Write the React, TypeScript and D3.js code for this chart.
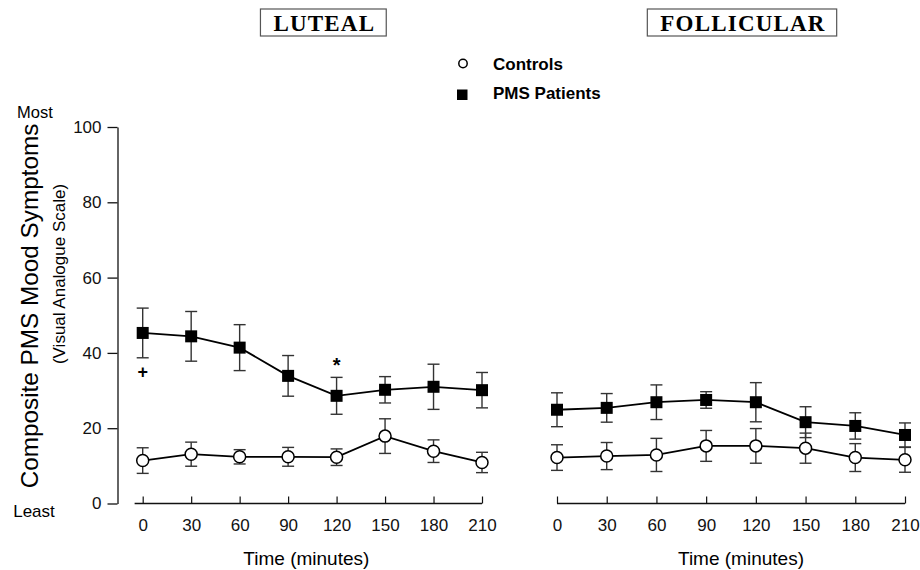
import React, { useEffect, useRef } from "react";
import * as d3 from "d3";

// time points (minutes)
const times = [0, 30, 60, 90, 120, 150, 180, 210];
const yTicks = [0, 20, 40, 60, 80, 100];

// luteal phase
const lutealPms = [45.3, 44.4, 41.4, 33.9, 28.6, 30.2, 31.0, 30.1];
const lutealPmsSem = [6.6, 6.6, 6.1, 5.4, 4.9, 3.5, 6.0, 4.7];
const lutealCtl = [11.4, 13.1, 12.4, 12.4, 12.3, 17.9, 13.9, 10.9];
const lutealCtlSem = [3.4, 3.2, 1.9, 2.5, 2.2, 4.6, 3.0, 2.7];

// follicular phase
const follPms = [24.9, 25.4, 26.9, 27.5, 26.9, 21.6, 20.6, 18.2];
const follPmsSem = [4.5, 3.8, 4.6, 2.2, 5.2, 4.1, 3.5, 3.2];
const follCtl = [12.2, 12.6, 12.9, 15.3, 15.3, 14.7, 12.2, 11.6];
const follCtlSem = [3.4, 3.6, 4.4, 4.1, 4.6, 4.0, 3.7, 3.3];

const panelTitles = ["LUTEAL", "FOLLICULAR"];
const seriesNames = ["Controls", "PMS Patients"];

export default function App() {
  const ref = useRef<SVGSVGElement>(null);

  useEffect(() => {
    const width = 920;
    const height = 570;
    const svg = d3.select(ref.current);
    svg.selectAll("*").remove();
    svg.attr("width", width).attr("height", height);

    const sans = "Arial, 'Liberation Sans', Helvetica, sans-serif";
    const serif = "'Times New Roman', 'Liberation Serif', serif";

    const y = d3.scaleLinear().domain([0, 100]).range([503.5, 127]);
    const xL = d3.scaleLinear().domain([0, 210]).range([142.7, 482]);
    const xR = d3.scaleLinear().domain([0, 210]).range([557, 905]);

    // y axis
    const yAxis = svg.append("g")
      .attr("transform", "translate(117.5,0)")
      .call(d3.axisLeft(y).tickValues(yTicks).tickSize(10).tickSizeOuter(0).tickPadding(6));
    yAxis.selectAll("path,line").attr("stroke", "#111").attr("stroke-width", 1.3);
    yAxis.selectAll("text").attr("font-family", sans).attr("font-size", 17).attr("fill", "#111");

    svg.append("text").attr("x", 35).attr("y", 118).attr("text-anchor", "middle")
      .attr("font-family", sans).attr("font-size", 16.5).text("Most");
    svg.append("text").attr("x", 34).attr("y", 517).attr("text-anchor", "middle")
      .attr("font-family", sans).attr("font-size", 17).text("Least");

    svg.append("text")
      .attr("transform", "translate(38,306) rotate(-90)")
      .attr("text-anchor", "middle").attr("font-family", sans).attr("font-size", 24.3)
      .text("Composite PMS Mood Symptoms");
    svg.append("text")
      .attr("transform", "translate(65,274) rotate(-90)")
      .attr("text-anchor", "middle").attr("font-family", sans).attr("font-size", 17)
      .text("(Visual Analogue Scale)");

    const panels = [
      { x: xL, title: panelTitles[0], pms: lutealPms, pmsSem: lutealPmsSem, ctl: lutealCtl, ctlSem: lutealCtlSem, axisStart: -5, labelShift: -6 },
      { x: xR, title: panelTitles[1], pms: follPms, pmsSem: follPmsSem, ctl: follCtl, ctlSem: follCtlSem, axisStart: 0, labelShift: 10 },
    ];

    panels.forEach((p) => {
      const x = p.x;
      const xa = svg.append("g")
        .attr("transform", `translate(0,${y(0)})`)
        .call(d3.axisBottom(x).tickValues(times).tickSize(-7).tickPadding(15).tickFormat(d3.format("d")));
      xa.select(".domain").remove();
      xa.selectAll("line").attr("stroke", "#111").attr("stroke-width", 1.2);
      xa.selectAll("text").attr("font-family", sans).attr("font-size", 17).attr("fill", "#111");
      xa.append("line")
        .attr("x1", x(p.axisStart)).attr("x2", x(210))
        .attr("stroke", "#111").attr("stroke-width", 1.3);

      const cx = (x(0) + x(210)) / 2;
      svg.append("text").attr("x", cx + p.labelShift).attr("y", 565).attr("text-anchor", "middle")
        .attr("font-family", sans).attr("font-size", 19).text("Time (minutes)");

      // panel title in box
      const tt = svg.append("text").attr("x", cx + 12).attr("y", 31).attr("text-anchor", "middle")
        .attr("font-family", serif).attr("font-weight", "bold").attr("font-size", 23)
        .attr("letter-spacing", 1.2).text(p.title);
      const bb = (tt.node() as SVGTextElement).getBBox();
      svg.append("rect")
        .attr("x", bb.x - 13).attr("y", 9).attr("width", bb.width + 24).attr("height", 27)
        .attr("fill", "none").attr("stroke", "#555").attr("stroke-width", 1.2);

      const series = [
        { v: p.ctl, s: p.ctlSem, kind: "circle" },
        { v: p.pms, s: p.pmsSem, kind: "square" },
      ];
      const g = svg.append("g");
      // error bars
      series.forEach((se) => {
        se.v.forEach((v, i) => {
          const px = x(times[i]);
          const hi = y(v + se.s[i]);
          const lo = y(v - se.s[i]);
          g.append("line").attr("x1", px).attr("x2", px).attr("y1", hi).attr("y2", lo)
            .attr("stroke", "#333").attr("stroke-width", 1.4);
          [hi, lo].forEach((yy) => {
            g.append("line").attr("x1", px - 6).attr("x2", px + 6).attr("y1", yy).attr("y2", yy)
              .attr("stroke", "#333").attr("stroke-width", 1.4);
          });
        });
      });
      // lines
      const line = d3.line<number>().x((_, i) => x(times[i])).y((d) => y(d));
      series.forEach((se) => {
        g.append("path").attr("d", line(se.v)!).attr("fill", "none")
          .attr("stroke", "#000").attr("stroke-width", 1.8);
      });
      // markers
      series.forEach((se) => {
        se.v.forEach((v, i) => {
          if (se.kind === "circle") {
            g.append("circle").attr("cx", x(times[i])).attr("cy", y(v)).attr("r", 6)
              .attr("fill", "#fff").attr("stroke", "#000").attr("stroke-width", 1.5);
          } else {
            g.append("rect").attr("x", x(times[i]) - 6).attr("y", y(v) - 6)
              .attr("width", 12).attr("height", 12).attr("fill", "#000");
          }
        });
      });
    });

    // significance marks (luteal PMS)
    svg.append("text").attr("x", xL(0)).attr("y", y(lutealPms[0] - lutealPmsSem[0]) + 20)
      .attr("text-anchor", "middle").attr("font-family", sans).attr("font-weight", "bold")
      .attr("font-size", 18).text("+");
    svg.append("text").attr("x", xL(120)).attr("y", y(lutealPms[4] + lutealPmsSem[4]) - 5)
      .attr("text-anchor", "middle").attr("font-family", sans).attr("font-weight", "bold")
      .attr("font-size", 20).text("*");

    // legend
    svg.append("circle").attr("cx", 463).attr("cy", 63.5).attr("r", 4.2)
      .attr("fill", "#fff").attr("stroke", "#000").attr("stroke-width", 1.5);
    svg.append("rect").attr("x", 457).attr("y", 89.5).attr("width", 10.5).attr("height", 10.5)
      .attr("fill", "#000");
    svg.append("text").attr("x", 493).attr("y", 69.5).attr("font-family", sans)
      .attr("font-weight", "bold").attr("font-size", 17).text(seriesNames[0]);
    svg.append("text").attr("x", 493).attr("y", 98.5).attr("font-family", sans)
      .attr("font-weight", "bold").attr("font-size", 17).text(seriesNames[1]);
  }, []);

  return (
    <div style={{ position: "absolute", left: 0, top: 0, background: "#fff" }}>
      <svg ref={ref}></svg>
    </div>
  );
}
